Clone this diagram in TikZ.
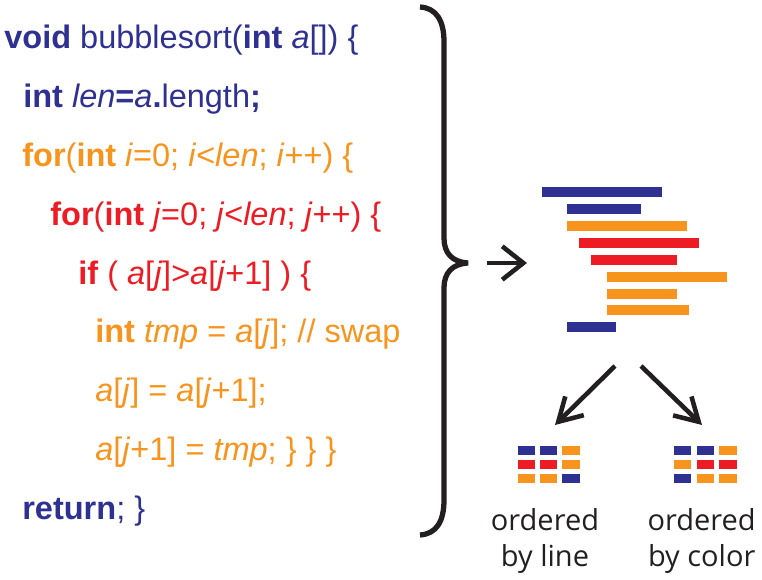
\documentclass[tikz,border=0pt]{standalone}
\usepackage{fontspec}
\setmainfont{Liberation Sans}
\newfontfamily\labelfont{Open Sans}
\usetikzlibrary{arrows.meta}
\definecolor{cblue}{RGB}{46,49,146}
\definecolor{corange}{RGB}{247,148,29}
\definecolor{cred}{RGB}{237,28,36}
\definecolor{ink}{RGB}{35,31,32}

\begin{document}
\begin{tikzpicture}[x=0.02cm, y=-0.02cm,
  code/.style={anchor=base west, inner sep=0pt, font=\fontsize{18.5}{22}\selectfont},
  lbl/.style={anchor=base, align=center, inner sep=0pt, text=ink, font=\labelfont\fontsize{16.5}{21}\selectfont},
  brace/.style={line width=3pt, draw=ink},
  edge/.style={line width=2.6pt, draw=ink}
]
\useasboundingbox (0,0) rectangle (762,580);
% code lines
\node[code, text=cblue] (l1) at (4,48.5) {\textbf{void} bubblesort(\textbf{int} \textit{a}[]) \{};
\node[code, text=cblue] (l2) at (23,107.4) {\textbf{int} \textit{len}\textbf{=}\textit{a}\textbf{.}length\textbf{;}};
\node[code, text=corange] (l3) at (22,166.3) {\textbf{for}(\textbf{int} \textit{i}=0; \textit{i}<\textit{len}; \textit{i}++) \{};
\node[code, text=cred] (l4) at (50,225.2) {\textbf{for}(\textbf{int} \textit{j}=0; \textit{j}<\textit{len}; \textit{j}++) \{};
\node[code, text=cred] (l5) at (78,284.1) {\textbf{if} ( \textit{a}[\textit{j}]>\textit{a}[\textit{j}+1] ) \{};
\node[code, text=corange] (l6) at (95,343) {\textbf{int} \textit{tmp} = \textit{a}[\textit{j}]; // swap};
\node[code, text=corange] (l7) at (95,401.9) {\textit{a}[\textit{j}] = \textit{a}[\textit{j}+1];};
\node[code, text=corange] (l8) at (95,460.8) {\textit{a}[\textit{j}+1] = \textit{tmp}; \} \} \}};
\node[code, text=cblue] (l9) at (22,519.7) {\textbf{return}; \}};
% brace
\draw[brace] (420,7) .. controls (436,8) and (444,20) .. (444,42) -- (444,238)
  .. controls (444,253) and (452,262) .. (468,263)
  .. controls (452,264) and (444,273) .. (444,288) -- (444,500)
  .. controls (444,522) and (436,534) .. (420,535);
% bars
\fill[cblue] (542.3,187.3) rectangle (662,197.3);
\fill[cblue] (566.7,204.3) rectangle (640.7,214.3);
\fill[corange] (566.7,221) rectangle (686.7,231);
\fill[cred] (579,238) rectangle (698.7,248);
\fill[cred] (591.3,255) rectangle (677.3,265);
\fill[corange] (606.7,271.7) rectangle (726.7,281.7);
\fill[corange] (606.7,288.7) rectangle (677.3,298.7);
\fill[corange] (606.7,305.3) rectangle (689.3,315.3);
\fill[cblue] (566.7,322.3) rectangle (616,332.3);
% arrows
\coordinate (bout) at (487,263);
\coordinate (cin) at (527,263);
\coordinate (cl) at (615,366);
\coordinate (gl) at (555,425);
\coordinate (cr) at (641,366);
\coordinate (gr) at (702,425);
\draw[edge, -{Straight Barb[length=12pt, width=19pt]}] (bout) -- (cin);
\draw[edge, -{Straight Barb[length=13pt, width=15pt]}] (cl) -- (gl);
\draw[edge, -{Straight Barb[length=13pt, width=15pt]}] (cr) -- (gr);
% ordered by line
\fill[cblue] (517.7,446) rectangle +(17.3,9.3);
\fill[cblue] (540,446) rectangle +(17.3,9.3);
\fill[corange] (562.3,446) rectangle +(17.3,9.3);
\fill[cred] (517.7,460) rectangle +(17.3,9.3);
\fill[cred] (540,460) rectangle +(17.3,9.3);
\fill[corange] (562.3,460) rectangle +(17.3,9.3);
\fill[corange] (517.7,474) rectangle +(17.3,9.3);
\fill[corange] (540,474) rectangle +(17.3,9.3);
\fill[cblue] (562.3,474) rectangle +(17.3,9.3);
% ordered by color
\fill[cblue] (674,446) rectangle +(17.3,9.3);
\fill[cblue] (696.7,446) rectangle +(17.3,9.3);
\fill[corange] (719.3,446) rectangle +(17.3,9.3);
\fill[corange] (674,460) rectangle +(17.3,9.3);
\fill[cred] (696.7,460) rectangle +(17.3,9.3);
\fill[cred] (719.3,460) rectangle +(17.3,9.3);
\fill[cblue] (674,474) rectangle +(17.3,9.3);
\fill[corange] (696.7,474) rectangle +(17.3,9.3);
\fill[corange] (719.3,474) rectangle +(17.3,9.3);
% labels
\node[lbl] (t1) at (545,567) {ordered\\by line};
\node[lbl] (t2) at (701.7,567) {ordered\\by color};
\end{tikzpicture}
\end{document}
